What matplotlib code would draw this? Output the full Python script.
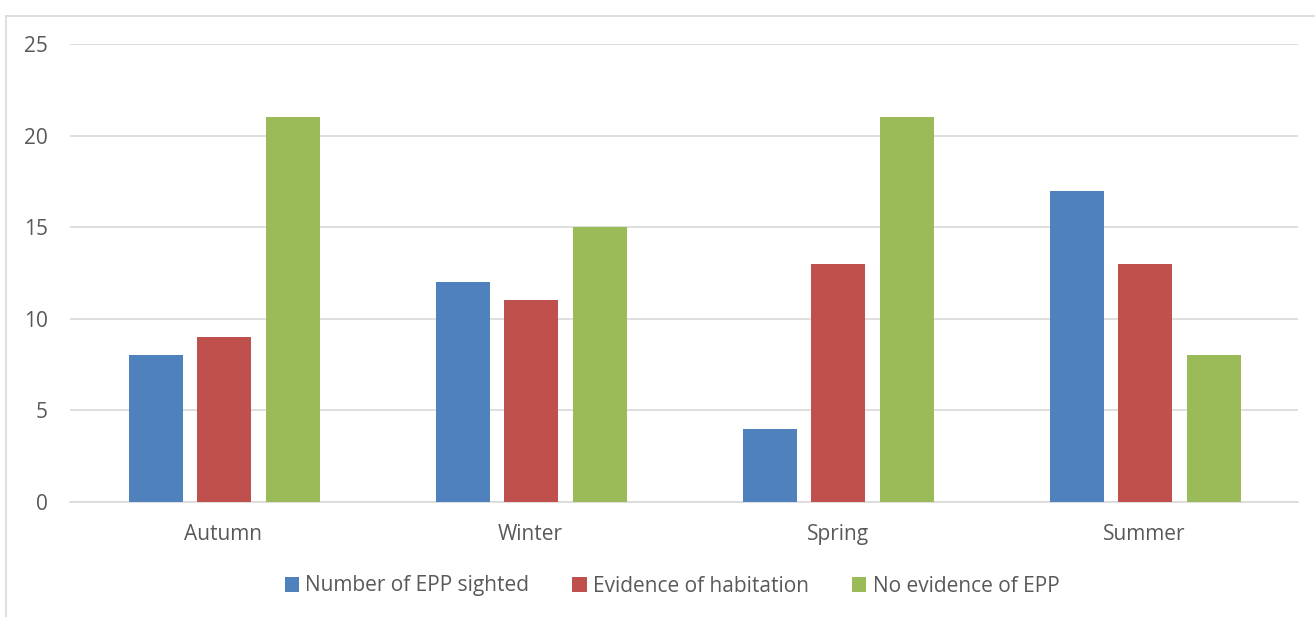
import numpy as np
import matplotlib
matplotlib.use("Agg")
import matplotlib.pyplot as plt
from matplotlib.lines import Line2D

# chart data
seasons = ['Autumn', 'Winter', 'Spring', 'Summer']
sighted = [8, 12, 4, 17]
habitation = [9, 11, 13, 13]
no_evidence = [21, 15, 21, 8]
series_names = ['Number of EPP sighted', 'Evidence of habitation', 'No evidence of EPP']
colors = ['#4F81BD', '#C0504D', '#9BBB59']
yticks = [0, 5, 10, 15, 20, 25]

plt.rcParams['font.family'] = ['Open Sans', 'DejaVu Sans']
text_color = '#595959'
fs = 15

fig = plt.figure(figsize=(13.15, 6.17), dpi=100)
ax = fig.add_axes([70/1315, 1 - 502/617, 1228/1315, 458/617])

x = np.arange(len(seasons))
width = 0.176
step = 0.222
for i, (vals, name, c) in enumerate(zip([sighted, habitation, no_evidence], series_names, colors)):
    ax.bar(x + (i - 1) * step + 0.003, vals, width, color=c, label=name, zorder=3)

ax.set_xlim(-0.5, len(seasons) - 0.5)
ax.set_ylim(0, 25)
ax.set_yticks(yticks)
ax.set_xticks(x)
ax.set_xticklabels(seasons)
ax.tick_params(axis='both', length=0, labelsize=fs, colors=text_color)
ax.tick_params(axis='y', pad=16)
ax.tick_params(axis='x', pad=16)
ax.grid(True, axis='y', color='#D9D9D9', lw=1.2, zorder=0)
for s in ['top', 'right', 'left']:
    ax.spines[s].set_visible(False)
ax.spines['bottom'].set_color('#D9D9D9')
ax.spines['bottom'].set_linewidth(1.2)

leg = fig.legend(loc='center', bbox_to_anchor=(672/1315, 1 - 586/617), ncol=3,
                 frameon=False, fontsize=fs, handlelength=0.7, handleheight=0.7,
                 handletextpad=0.3, columnspacing=2.05, labelcolor=text_color)

# outer chart frame (left and top edges visible)
fig.add_artist(Line2D([6.5/1315, 6.5/1315], [0, 1 - 15.5/617], transform=fig.transFigure, color='#D9D9D9', lw=1.2))
fig.add_artist(Line2D([6.5/1315, 1], [1 - 15.5/617, 1 - 15.5/617], transform=fig.transFigure, color='#D9D9D9', lw=1.2))

fig.savefig('out.png', dpi=100)
